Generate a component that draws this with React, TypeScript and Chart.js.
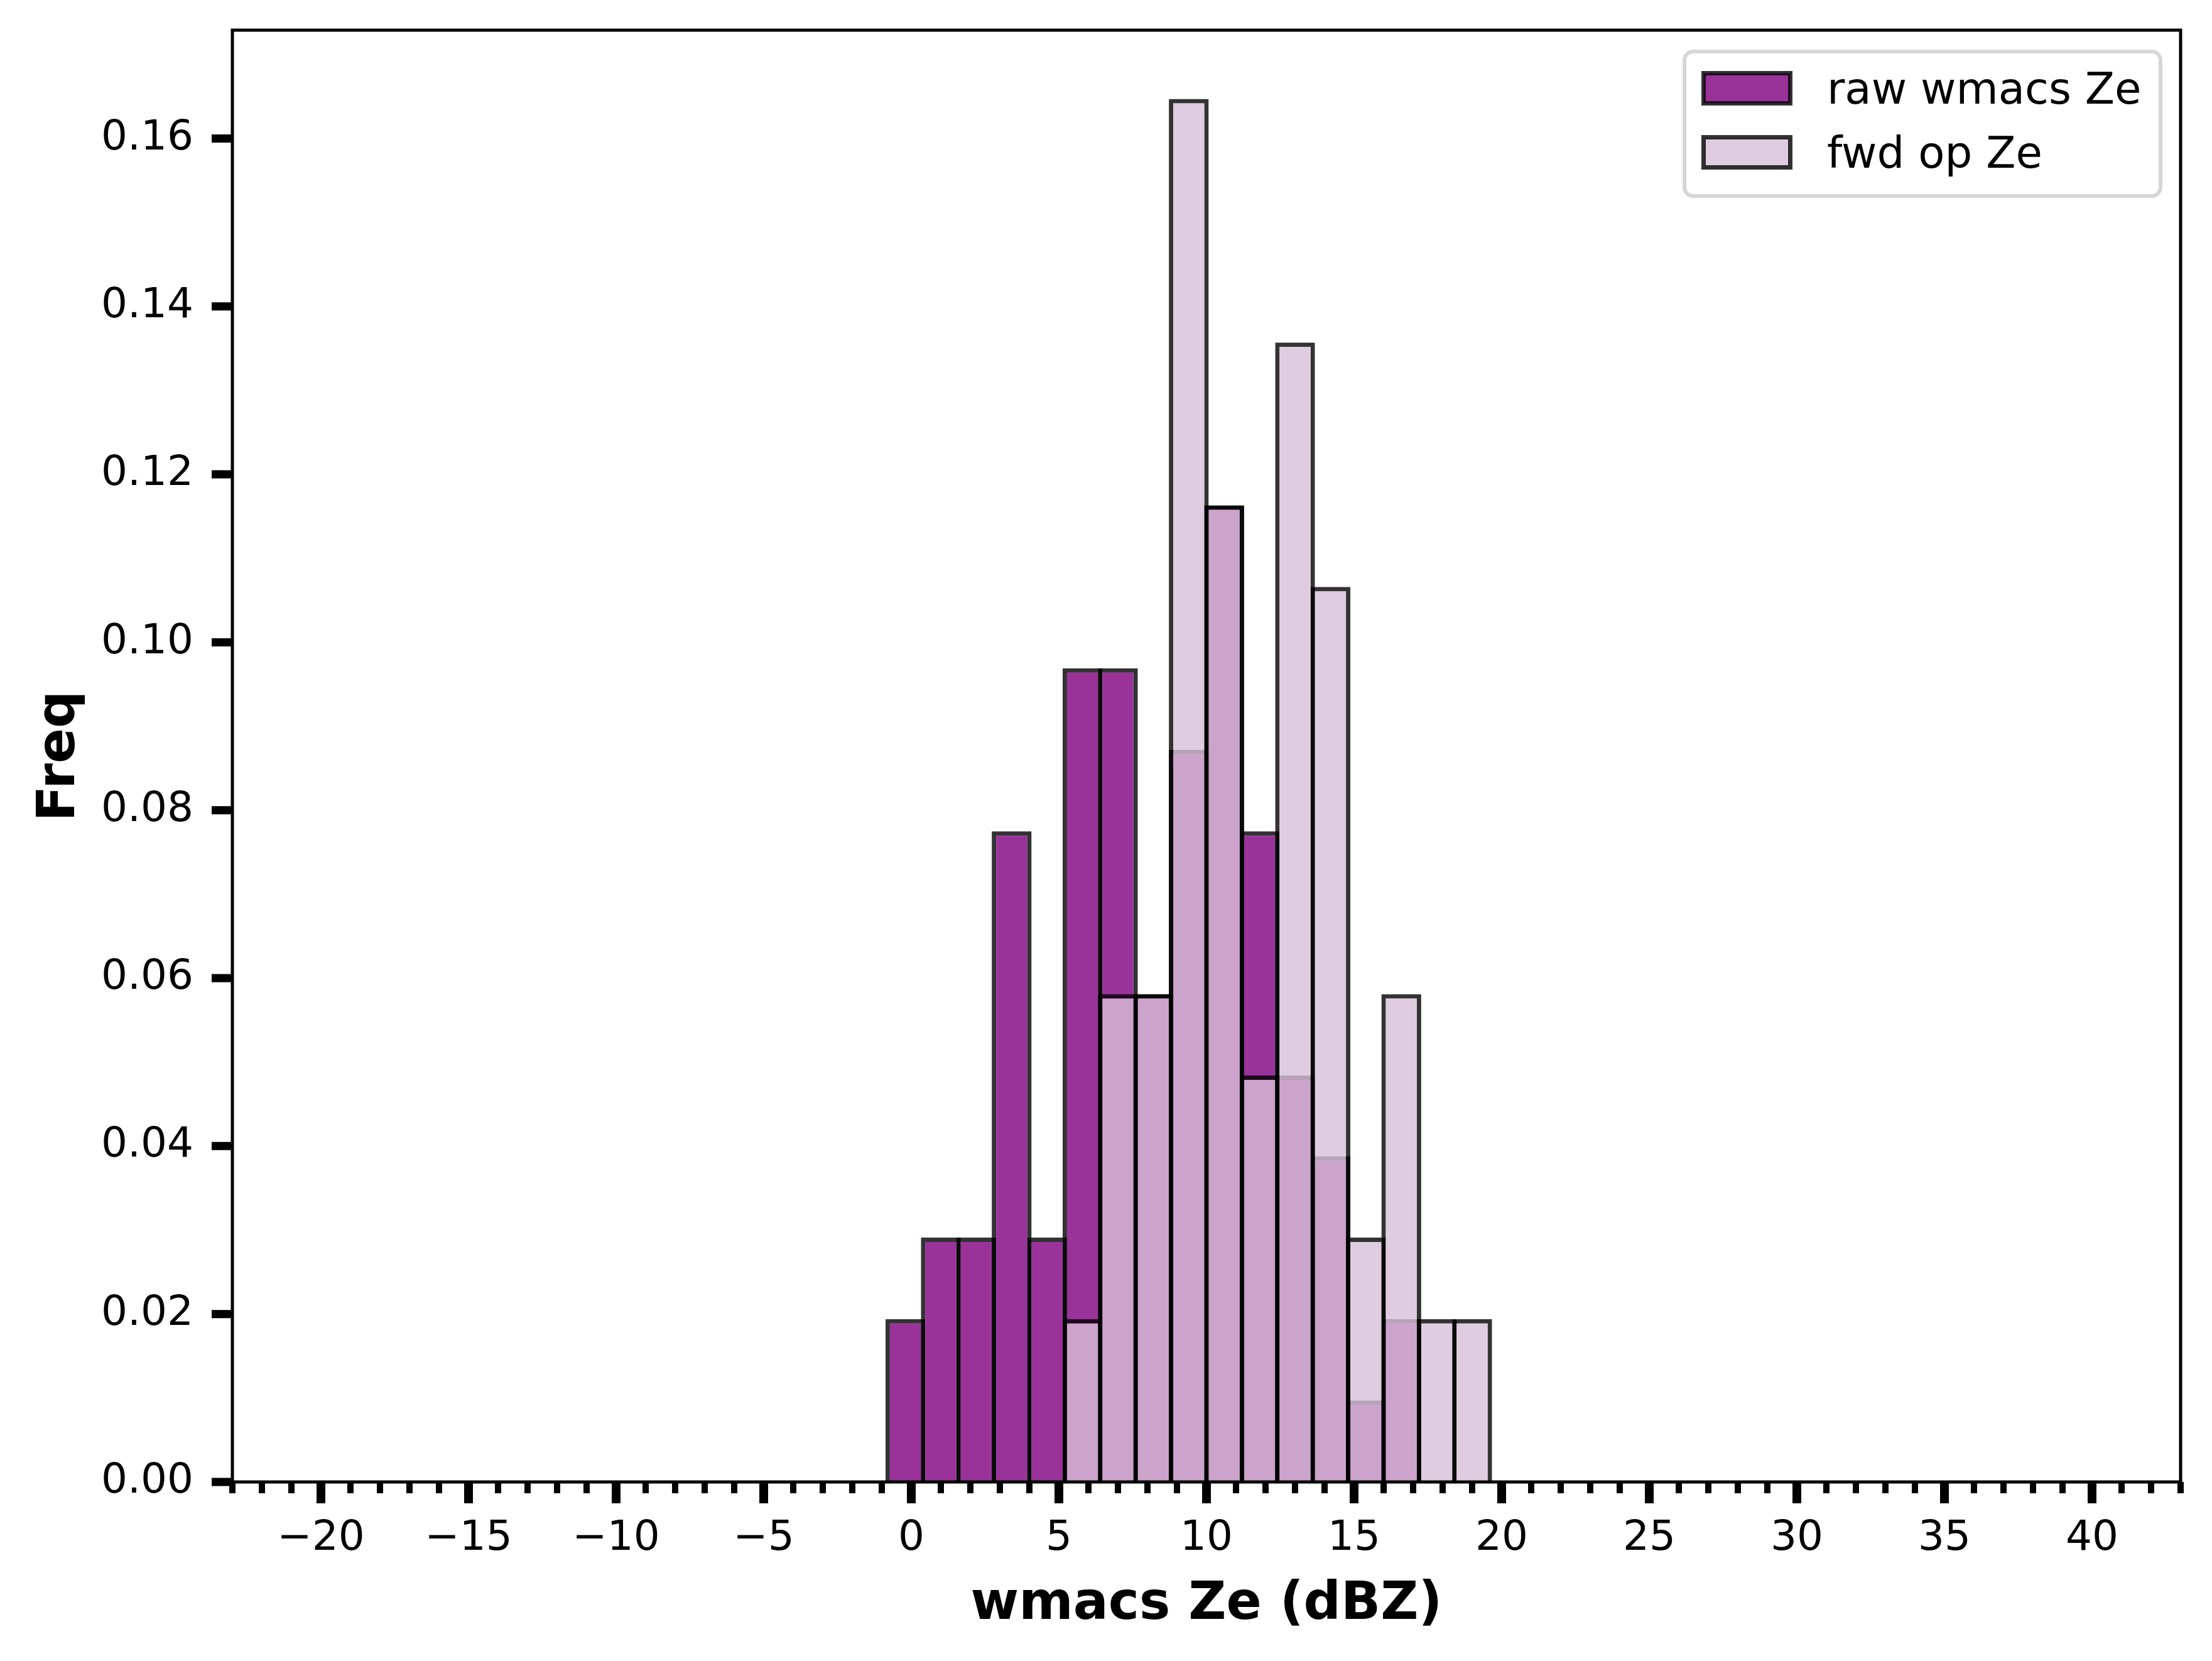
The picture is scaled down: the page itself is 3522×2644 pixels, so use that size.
import { useEffect, useRef } from "react";
import { Chart, registerables } from "chart.js";

Chart.register(...registerables);

// histogram bins (1.2 dBZ wide), centre of each bin
const binCenters = [-0.2, 1.0, 2.2, 3.4, 4.6, 5.8, 7.0, 8.2, 9.4, 10.6, 11.8, 13.0, 14.2, 15.4, 16.6, 17.8, 19.0];

const rawFreq = [0.0194, 0.0291, 0.0291, 0.0775, 0.0291, 0.0969, 0.0969, 0.0581, 0.0872, 0.1163, 0.0775, 0.0484, 0.0388, 0.0097, 0.0194, null, null];
const fwdFreq = [null, null, null, null, null, 0.0194, 0.0581, 0.0581, 0.1647, 0.1163, 0.0484, 0.1357, 0.1066, 0.0291, 0.0581, 0.0194, 0.0194];

const xTicks = [-20, -15, -10, -5, 0, 5, 10, 15, 20, 25, 30, 35, 40];
const yTicks = [0, 0.02, 0.04, 0.06, 0.08, 0.1, 0.12, 0.14, 0.16];

const X_MIN = -23;
const X_MAX = 43;
const Y_MAX = 0.1729;

const FONT = "'DejaVu Sans'";

const series = [
  { label: "raw wmacs Ze", values: rawFreq, fill: "rgba(128, 0, 128, 0.8)" },
  { label: "fwd op Ze", values: fwdFreq, fill: "rgba(216, 191, 216, 0.8)" },
];
const EDGE = "rgba(0, 0, 0, 0.8)";
const EDGE_W = 7;

const toPoints = (values: (number | null)[]) =>
  binCenters
    .map((c, i) => ({ x: c, y: values[i] }))
    .filter((p) => p.y !== null);

// spines, tick marks and the legend box, drawn on top like matplotlib does
const framePlugin = {
  id: "frame",
  afterDraw(chart: any) {
    const { ctx, chartArea: a, scales } = chart;
    const xs = scales.x;
    const ys = scales.y;
    ctx.save();
    ctx.strokeStyle = "#000";
    ctx.lineCap = "butt";

    for (let v = X_MIN; v <= X_MAX; v++) {
      const px = xs.getPixelForValue(v);
      const major = v % 5 === 0;
      ctx.lineWidth = major ? 14 : 10;
      ctx.beginPath();
      ctx.moveTo(px, a.bottom);
      ctx.lineTo(px, a.bottom + (major ? 34 : 18));
      ctx.stroke();
    }

    ctx.lineWidth = 13;
    yTicks.forEach((v) => {
      const py = ys.getPixelForValue(v);
      ctx.beginPath();
      ctx.moveTo(a.left - 33, py);
      ctx.lineTo(a.left, py);
      ctx.stroke();
    });

    ctx.lineWidth = 5;
    ctx.strokeRect(a.left, a.top, a.right - a.left, a.bottom - a.top);

    // legend
    const lw = 758;
    const lh = 230;
    const lx = a.right - 32 - lw;
    const ly = a.top + 34;
    ctx.beginPath();
    ctx.roundRect(lx, ly, lw, lh, 14);
    ctx.fillStyle = "rgba(255, 255, 255, 0.8)";
    ctx.fill();
    ctx.lineWidth = 6;
    ctx.strokeStyle = "rgba(204, 204, 204, 0.8)";
    ctx.stroke();

    ctx.font = `69px ${FONT}`;
    ctx.textBaseline = "alphabetic";
    ctx.textAlign = "left";
    series.forEach((s, i) => {
      const py = ly + 34.5 + i * 102;
      ctx.fillStyle = s.fill;
      ctx.fillRect(lx + 30.5, py, 138, 48);
      ctx.lineWidth = EDGE_W;
      ctx.strokeStyle = EDGE;
      ctx.strokeRect(lx + 30.5, py, 138, 48);
      ctx.fillStyle = "#000";
      ctx.fillText(s.label, lx + 227, ly + 83 + i * 102);
    });
    ctx.restore();
  },
};

const ZeHistogram = () => {
  const canvasRef = useRef<HTMLCanvasElement>(null);

  useEffect(() => {
    if (!canvasRef.current) return;

    const chart = new Chart(canvasRef.current, {
      type: "bar",
      data: {
        datasets: series.map((s, i) => ({
          label: s.label,
          data: toPoints(s.values),
          backgroundColor: s.fill,
          borderColor: EDGE,
          borderWidth: EDGE_W,
          grouped: false,
          // widen by one edge width so neighbouring outlines sit centred on the bin edge
          barPercentage: 1.124,
          categoryPercentage: 1,
          order: series.length - i,
        })),
      },
      options: {
        responsive: false,
        animation: false,
        devicePixelRatio: 1,
        layout: { padding: { left: 0, right: 50, top: 48, bottom: 0 } },
        plugins: {
          legend: { display: false },
          tooltip: { enabled: false },
        },
        scales: {
          x: {
            type: "linear",
            min: X_MIN,
            max: X_MAX,
            offset: false,
            grid: { display: false, drawTicks: false },
            border: { display: false },
            afterBuildTicks: (scale: any) => {
              scale.ticks = xTicks.map((v) => ({ value: v }));
            },
            afterFit: (scale: any) => {
              scale.height = 285;
              scale.paddingLeft = 0;
              scale.paddingRight = 0;
            },
            ticks: {
              autoSkip: false,
              maxRotation: 0,
              padding: 51,
              color: "#000",
              font: { family: FONT, size: 66 },
              callback: (v: any) => (v < 0 ? "\u2212" + Math.abs(v) : String(v)),
            },
            title: {
              display: true,
              text: "wmacs Ze (dBZ)",
              color: "#000",
              font: { family: FONT, size: 83, weight: "bold" },
              padding: { top: 0, bottom: 39 },
            },
          },
          y: {
            type: "linear",
            min: 0,
            max: Y_MAX,
            grid: { display: false, drawTicks: false },
            border: { display: false },
            afterBuildTicks: (scale: any) => {
              scale.ticks = yTicks.map((v) => ({ value: v }));
            },
            afterFit: (scale: any) => {
              scale.width = 370;
              scale.paddingTop = 0;
              scale.paddingBottom = 0;
            },
            ticks: {
              padding: 62,
              color: "#000",
              font: { family: FONT, size: 66 },
              callback: (v: any) => Number(v).toFixed(2),
            },
            title: {
              display: true,
              text: "Freq",
              color: "#000",
              font: { family: FONT, size: 83, weight: "bold" },
              padding: { top: 47, bottom: 0 },
            },
          },
        },
      },
      plugins: [framePlugin],
    });

    return () => chart.destroy();
  }, []);

  return (
    <div style={{ position: "absolute", left: 0, top: 0, width: 3522, height: 2644, background: "#fff" }}>
      <canvas ref={canvasRef} width={3522} height={2644} style={{ display: "block" }}></canvas>
    </div>
  );
};

export default function App() {
  return <ZeHistogram />;
}
